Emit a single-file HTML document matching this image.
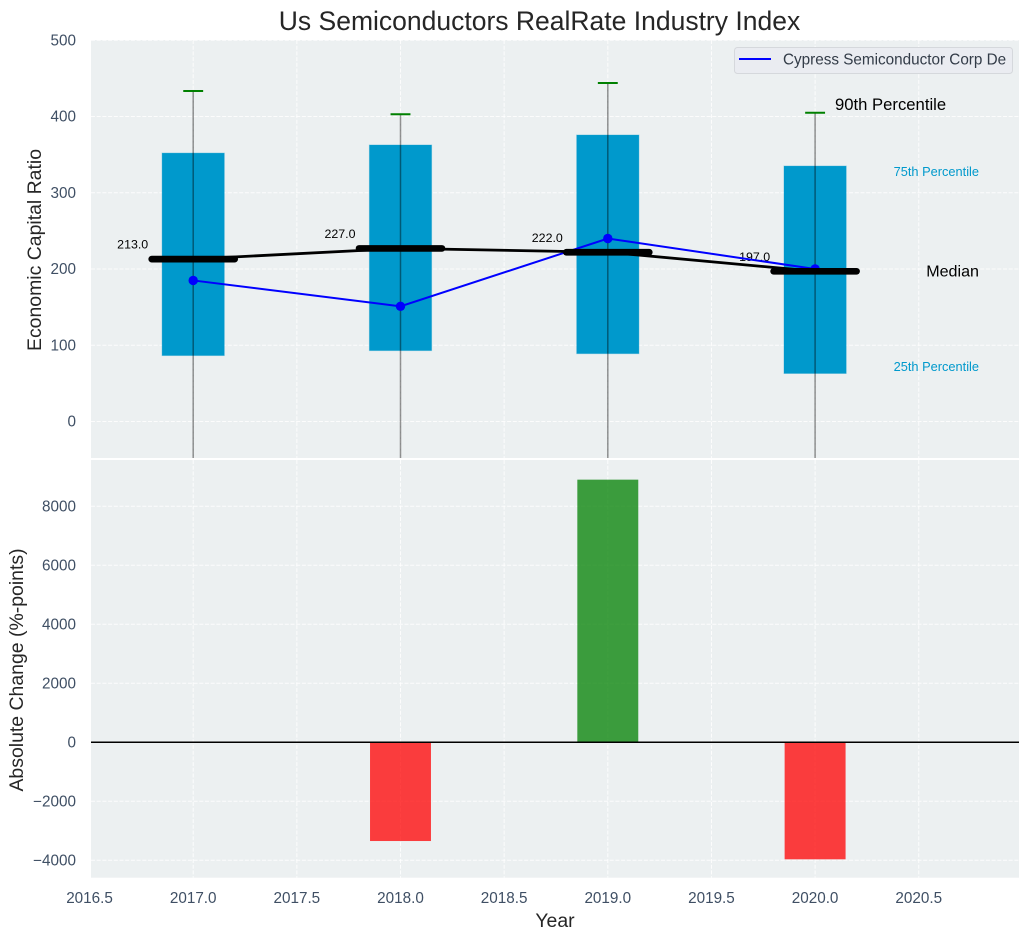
<!DOCTYPE html>
<html>
<head>
<meta charset="utf-8">
<title>Us Semiconductors RealRate Industry Index</title>
<style>
html,body{margin:0;padding:0;background:#fff;width:1029px;height:940px;overflow:hidden}
svg{display:block;font-family:"Liberation Sans",Arial,sans-serif}
</style>
</head>
<body>
<svg id="chart" xmlns="http://www.w3.org/2000/svg" width="1029" height="940" viewBox="0 0 1029 940">
<defs>
<clipPath id="clip-top"><rect x="91" y="40" width="928" height="418"/></clipPath>
<clipPath id="clip-bottom"><rect x="91" y="460" width="928" height="417.7"/></clipPath>
</defs>
</svg>
<script>
const years = [2017, 2018, 2019, 2020];
const p25 = [86.5, 93, 89, 63];
const p75 = [352, 362.6, 375.7, 335];
const p90 = [433.5, 403, 444, 405];
const p10 = [-70, -70, -70, -70];
const medians = [213, 227, 222, 197];
const medianLabels = ["213.0", "227.0", "222.0", "197.0"];
const companySeries = [185, 151, 240, 200];
const changes = [0, -3350, 8900, -3970];
const xTicks = [2016.5, 2017, 2017.5, 2018, 2018.5, 2019, 2019.5, 2020, 2020.5];
const xTickLabels = ["2016.5", "2017.0", "2017.5", "2018.0", "2018.5", "2019.0", "2019.5", "2020.0", "2020.5"];
const yTopTicks = [0, 100, 200, 300, 400, 500];
const yBottomTicks = [-4000, -2000, 0, 2000, 4000, 6000, 8000];

const svg = document.getElementById('chart');
const NS = 'http://www.w3.org/2000/svg';
const X = v => 193.2 + (v - 2017) * 207.3;
const YT = v => 421.5 - v * 0.7625;
const YB = v => 742.2 - v * 0.0295;

function make(tag, attrs, parent, text) {
  const e = document.createElementNS(NS, tag);
  for (const k in attrs) e.setAttribute(k, attrs[k]);
  if (text !== undefined) e.textContent = text;
  (parent || svg).appendChild(e);
  return e;
}
let el;

el = make('rect', {x: 91, y: 40, width: 928, height: 418, fill: '#ecf0f1'});


el = make('rect', {x: 91, y: 460, width: 928, height: 417.7, fill: '#ecf0f1'});



const topG = make('g', {'clip-path': 'url(#clip-top)'});


const botG = make('g', {'clip-path': 'url(#clip-bottom)'});



const gridStyle = {stroke: '#ffffff', 'stroke-width': 1, 'stroke-dasharray': '4 1.7', opacity: 0.85};

xTicks.forEach((t, i) => {
  el = make('line', Object.assign({x1: X(t), x2: X(t), y1: 40, y2: 458}, gridStyle), topG);
  
  
  el = make('line', Object.assign({x1: X(t), x2: X(t), y1: 460, y2: 878}, gridStyle), botG);
  
  
  el = make('text', {x: X(t), y: 903, 'text-anchor': 'middle', 'font-size': 15.28, fill: '#3f4f64'}, svg, xTickLabels[i]);
  
  
});
yTopTicks.forEach(t => {
  el = make('line', Object.assign({x1: 91, x2: 1019, y1: YT(t), y2: YT(t)}, gridStyle), topG);
  
  
  el = make('text', {x: 76, y: YT(t) + 5.2, 'text-anchor': 'end', 'font-size': 15.28, fill: '#3f4f64'}, svg, String(t));
  
  
});
yBottomTicks.forEach(t => {
  el = make('line', Object.assign({x1: 91, x2: 1019, y1: YB(t), y2: YB(t)}, gridStyle), botG);
  
  
  el = make('text', {x: 76, y: YB(t) + 5.2, 'text-anchor': 'end', 'font-size': 15.28, fill: '#3f4f64'}, svg, String(t).replace('-', '\u2212'));
  
  
});

years.forEach((y, i) => {
  el = make('rect', {x: X(y - 0.15), width: X(y + 0.15) - X(y - 0.15), y: YT(p75[i]), height: YT(p25[i]) - YT(p75[i]), fill: '#0099cc', stroke: '#0099cc', 'stroke-opacity': 0.35, 'stroke-width': 1}, topG);
  
  
});
years.forEach((y, i) => {
  el = make('line', {x1: X(y), x2: X(y), y1: YT(p90[i]), y2: YT(p10[i]), stroke: '#000000', 'stroke-opacity': 0.42, 'stroke-width': 1.5}, topG);
  
  
  el = make('line', {x1: X(y - 0.048), x2: X(y + 0.048), y1: YT(p90[i]), y2: YT(p90[i]), stroke: '#008000', 'stroke-width': 2}, topG);
  
  
  el = make('text', {x: X(y) - 45, y: YT(medians[i]) - 10.4, 'text-anchor': 'end', 'font-size': 12.4, fill: '#000000'}, topG, medianLabels[i]);
  
  
});

const pts = (vals) => years.map((y, i) => X(y) + ',' + YT(vals[i])).join(' ');
el = make('polyline', {points: pts(companySeries), fill: 'none', stroke: '#0000ff', 'stroke-width': 2}, topG);


years.forEach((y, i) => {
  el = make('circle', {cx: X(y), cy: YT(companySeries[i]), r: 4.7, fill: '#0000ff'}, topG);
  
  
});
el = make('polyline', {points: pts(medians), fill: 'none', stroke: '#000000', 'stroke-width': 2.8}, topG);


years.forEach((y, i) => {
  el = make('line', {x1: X(y - 0.2), x2: X(y + 0.2), y1: YT(medians[i]), y2: YT(medians[i]), stroke: '#000000', 'stroke-width': 6.7, 'stroke-linecap': 'round'}, topG);
  
  
});

const last = years.length - 1;
el = make('text', {x: 835, y: YT(p90[last]) - 2.5, 'font-size': 16.67, fill: '#000000'}, topG, '90th Percentile');


el = make('text', {x: 979, y: YT(p75[last]) + 10, 'text-anchor': 'end', 'font-size': 12.8, fill: '#0099cc'}, topG, '75th Percentile');


el = make('text', {x: 979, y: YT(medians[last]) + 5, 'text-anchor': 'end', 'font-size': 16.1, fill: '#000000'}, topG, 'Median');


el = make('text', {x: 979, y: YT(p25[last]) - 2.5, 'text-anchor': 'end', 'font-size': 12.8, fill: '#0099cc'}, topG, '25th Percentile');



years.forEach((y, i) => {
  const v = changes[i];
  if (v === 0) return;
  el = make('rect', {x: X(y - 0.147), width: X(y + 0.147) - X(y - 0.147), y: Math.min(YB(v), YB(0)), height: Math.abs(YB(v) - YB(0)), fill: v > 0 ? '#008000' : '#ff0000', 'fill-opacity': 0.75}, botG);
  
  
});
el = make('line', {x1: 91, x2: 1019, y1: YB(0), y2: YB(0), stroke: '#000000', 'stroke-width': 1.5}, botG);



const legend = make('g', {});


el = make('rect', {x: 734.5, y: 47.5, width: 278, height: 26, rx: 3, fill: '#eaecf1', stroke: '#d5d8dc', 'stroke-width': 1}, legend);


el = make('line', {x1: 739, x2: 771, y1: 59, y2: 59, stroke: '#0000ff', 'stroke-width': 2}, legend);


el = make('text', {x: 783, y: 64.5, 'font-size': 15.28, fill: '#333c48'}, legend, 'Cypress Semiconductor Corp De');



el = make('text', {x: 539.5, y: 30, 'text-anchor': 'middle', 'font-size': 26.5, fill: '#262626'}, svg, 'Us Semiconductors RealRate Industry Index');


el = make('text', {x: 555, y: 927, 'text-anchor': 'middle', 'font-size': 19.44, fill: '#262626'}, svg, 'Year');


el = make('text', {transform: 'translate(41 250) rotate(-90)', 'text-anchor': 'middle', 'font-size': 19.44, fill: '#262626'}, svg, 'Economic Capital Ratio');


el = make('text', {transform: 'translate(23 670) rotate(-90)', 'text-anchor': 'middle', 'font-size': 19.44, fill: '#262626'}, svg, 'Absolute Change (%-points)');


</script>
</body>
</html>
